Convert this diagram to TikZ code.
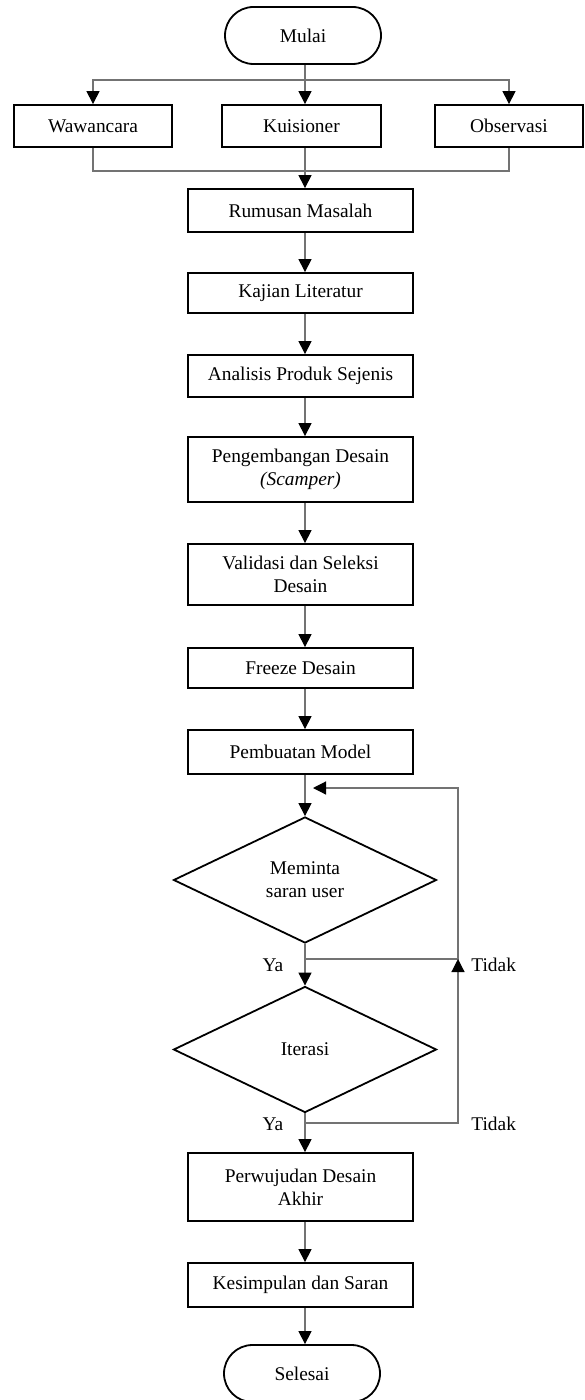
\documentclass[tikz,border=0pt]{standalone}
\usepackage{fontspec}
\setmainfont{Liberation Serif}
\usetikzlibrary{arrows.meta,shapes.geometric,shapes.misc}

\tikzset{
    process/.style={draw, line width=0.9pt, rectangle, inner sep=0pt, align=center, minimum width=112.5pt},
    terminal/.style={draw, line width=0.9pt, rounded rectangle, inner sep=0pt, minimum width=78pt, minimum height=28.5pt},
    decision/.style={draw, line width=0.9pt, diamond, inner sep=0pt, align=center, minimum width=131.5pt, minimum height=63pt},
    flow/.style={draw=black!55, line width=0.6pt},
    flowarrow/.style={flow, -{Triangle[width=6.5pt,length=6.5pt,color=black]}},
    answer/.style={font=\fontsize{9.7}{11.5}\selectfont}
}

\begin{document}
\begin{tikzpicture}[x=0.5pt, y=-0.5pt, font=\fontsize{9.7}{11.5}\selectfont]
    \useasboundingbox (0,0) rectangle (584,1400);

    \node[terminal] (mulai) at (303,35.5) {Mulai};
    \node[process, minimum width=79pt, minimum height=21pt] (wawancara) at (93,126) {Wawancara};
    \node[process, minimum width=79.5pt, minimum height=21pt] (kuisioner) at (301.5,126) {Kuisioner};
    \node[process, minimum width=74pt, minimum height=21pt] (observasi) at (509,126) {Observasi};
    \node[process, minimum height=21.5pt] (rumusan) at (300.5,210.5) {Rumusan Masalah};
    \node[process, minimum height=20pt] (kajian) at (300.5,293) {Kajian Literatur};
    \node[process, minimum height=21pt] (analisis) at (300.5,376) {Analisis Produk Sejenis};
    \node[process, minimum height=32.5pt] (pengembangan) at (300.5,469.5) {Pengembangan Desain\\\textit{(Scamper)}};
    \node[process, minimum height=30.5pt] (validasi) at (300.5,574.5) {Validasi dan Seleksi\\Desain};
    \node[process, minimum height=20pt] (freeze) at (300.5,668) {Freeze Desain};
    \node[process, minimum height=22pt] (pembuatan) at (300.5,752) {Pembuatan Model};
    \node[decision] (meminta) at (305,880) {Meminta\\saran user};
    \node[decision] (iterasi) at (305,1049.5) {Iterasi};
    \node[process, minimum height=34pt] (perwujudan) at (300.5,1187) {Perwujudan Desain\\Akhir};
    \node[process, minimum height=22pt] (kesimpulan) at (300.5,1285) {Kesimpulan dan Saran};
    \node[terminal] (selesai) at (302,1373.5) {Selesai};

    \coordinate (split) at (305,80);
    \coordinate (merge) at (305,171);
    \coordinate (ya1) at (305,959);
    \coordinate (ya2) at (305,1123);
    \coordinate (loopturn) at (458,959);
    \coordinate (looptop) at (458,788);
    \coordinate (loopback) at (313,788);

    \draw[flow] (mulai.south -| split) -- (split);
    \draw[flowarrow] (split) -| (wawancara.north);
    \draw[flowarrow] (split) -- (kuisioner.north -| split);
    \draw[flowarrow] (split) -| (observasi.north);
    \draw[flow] (wawancara.south) |- (merge);
    \draw[flow] (observasi.south) |- (merge);
    \draw[flow] (kuisioner.south -| merge) -- (merge);
    \draw[flowarrow] (merge) -- (rumusan.north -| merge);

    \foreach \from/\to in {rumusan/kajian, kajian/analisis, analisis/pengembangan, pengembangan/validasi, validasi/freeze, freeze/pembuatan, iterasi/perwujudan, perwujudan/kesimpulan, kesimpulan/selesai}
        \draw[flowarrow] (\from.south -| split) -- (\to.north -| split);
    \draw[flowarrow] (pembuatan.south -| split) -- (meminta.north);
    \draw[flowarrow] (meminta.south) -- (iterasi.north);

    \draw[flowarrow] (ya1) -- (loopturn) -- (looptop) -- (loopback);
    \draw[flowarrow] (ya2) -| (loopturn);

    \node[answer] (ya1label) at (273,965) {Ya};
    \node[answer, anchor=west, inner sep=0pt] (tidak1label) at (471,965) {Tidak};
    \node[answer] (ya2label) at (273,1124) {Ya};
    \node[answer, anchor=west, inner sep=0pt] (tidak2label) at (471,1124) {Tidak};
\end{tikzpicture}
\end{document}
